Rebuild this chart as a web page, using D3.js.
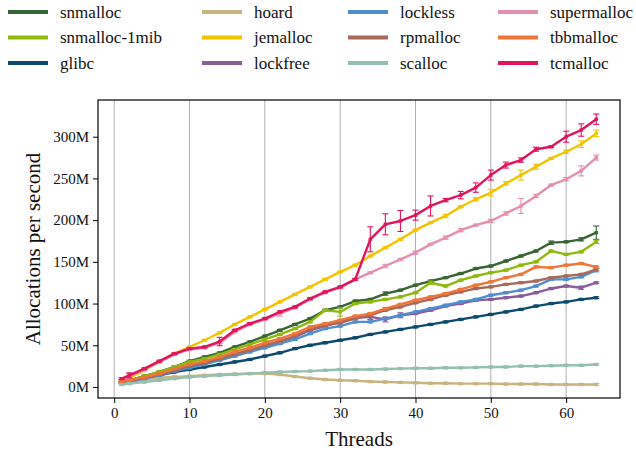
<!DOCTYPE html>
<html>
<head>
<meta charset="utf-8">
<script src="https://cdn.jsdelivr.net/npm/d3@7"></script>
<style>
  body { margin: 0; background: #fff; }
  svg text { font-family: "Liberation Serif", "DejaVu Serif", serif; fill: #111; }
</style>
</head>
<body>
<div id="chart"></div>
<script>
// thread counts on the x axis
const threads = [1, 2, 4, 6, 8, 10, 12, 14, 16, 18, 20, 22, 24, 26, 28, 30, 32,
                 34, 36, 38, 40, 42, 44, 46, 48, 50, 52, 54, 56, 58, 60, 62, 64];

// allocations per second, in millions
const snmalloc     = [7, 8, 13, 18, 24, 31, 36, 41, 48, 54, 61, 68, 75, 82, 92, 96, 103, 105, 112, 116, 122, 127, 131, 136, 142, 145, 151, 157, 163, 173, 174, 177, 185];
const snmalloc1mib = [7, 8, 13, 18, 24, 30, 34, 39, 45, 51, 57, 63, 70, 78, 92, 90, 100, 102, 105, 108, 113, 125, 121, 128, 133, 137, 140, 146, 150, 163, 159, 162, 174];
const glibc        = [5, 6, 10, 14, 18, 21, 24, 27, 30, 33, 37, 41, 46, 50, 53, 56, 59, 63, 66, 69, 72, 75, 78, 81, 84, 87, 90, 93, 97, 100, 102, 105, 107];
const hoard        = [6, 7, 9, 11, 12, 13, 14, 15, 15.5, 16, 16, 15, 12.5, 10.5, 9, 8, 7.5, 6.5, 6, 5.5, 5, 4.5, 4.5, 4, 4, 4, 3.5, 3.5, 3.5, 3, 3, 3, 3];
const jemalloc     = [8, 11, 20, 30, 40, 48, 56, 65, 75, 84, 93, 102, 111, 120, 129, 138, 146, 157, 167, 177, 188, 197, 205, 216, 225, 233, 244, 254, 264, 274, 282, 291, 304];
const lockfree     = [6, 7, 11, 15, 20, 25, 29, 34, 39, 44, 49, 54, 60, 68, 73, 78, 83, 84, 81, 86, 88, 92, 97, 100, 104, 105, 107, 109, 113, 118, 121, 119, 125];
const lockless     = [5, 6, 10, 14, 19, 23, 27, 32, 37, 42, 47, 52, 57, 64, 70, 73, 78, 78, 82, 86, 90, 94, 98, 102, 105, 110, 113, 116, 121, 129, 129, 132, 140];
const rpmalloc     = [6, 7, 11, 15, 20, 25, 29, 34, 39, 44, 50, 55, 61, 69, 74, 77, 82, 86, 92, 96, 101, 105, 110, 114, 118, 120, 123, 125, 127, 131, 133, 135, 141];
const scalloc      = [3, 4, 6, 8, 10, 12, 13, 14, 15, 16, 17, 18, 18.5, 19, 20, 21, 21, 21, 21.5, 22, 22.5, 22.5, 23, 23, 23.5, 24, 24, 25, 25, 25.5, 26, 26, 27];
const supermalloc  = [9, 13, 21, 30, 39, 45, 47, 53, 66, 75, 81, 88, 95, 105, 113, 119, 129, 137, 145, 153, 161, 171, 179, 188, 194, 199, 208, 217, 229, 242, 249, 259, 275];
const tbbmalloc    = [7, 8, 12, 16, 22, 27, 31, 36, 42, 47, 53, 58, 64, 72, 76, 80, 85, 88, 94, 99, 104, 108, 112, 117, 122, 126, 131, 135, 144, 143, 146, 148, 144];
const tcmalloc     = [10, 14, 22, 31, 40, 46, 48, 54.5, 68, 76, 82, 90, 96, 106, 114, 120, 129, 177, 195, 199, 206, 217, 224, 230, 239, 254, 266, 272, 285, 288, 300, 308, 321];

// error bar half-heights, in millions
const snmallocErr     = [1, 1, 1, 1, 1, 1, 1, 1, 1, 1, 1, 1, 1, 1, 1, 1, 1, 1, 2, 1, 1, 1, 1, 1, 1, 1, 1, 1, 1, 2, 1, 2, 8];
const snmalloc1mibErr = [1, 1, 1, 1, 1, 1, 1, 1, 1, 1, 1, 1, 1, 1, 1, 5, 1, 1, 1, 1, 1, 2, 1, 1, 1, 1, 1, 1, 1, 1, 1, 1, 2];
const glibcErr        = [1, 1, 1, 1, 1, 1, 1, 1, 1, 1, 1, 1, 1, 1, 1, 1, 1, 1, 1, 1, 1, 1, 1, 1, 1, 1, 1, 1, 1, 1, 1, 1, 1];
const hoardErr        = [1, 1, 1, 1, 1, 1, 1, 1, 1, 1, 1, 1, 1, 1, 1, 1, 1, 1, 1, 1, 1, 1, 1, 1, 1, 1, 1, 1, 1, 1, 1, 1, 1];
const jemallocErr     = [1, 1, 1, 1, 1, 1, 1, 1, 1, 1, 1, 1, 1, 1, 1, 1, 1, 1, 1, 1, 1, 1, 2, 1, 2, 4, 2, 6, 3, 1, 2, 4, 4];
const lockfreeErr     = [1, 1, 1, 1, 1, 1, 1, 1, 1, 1, 1, 1, 1, 1, 1, 1, 1, 3, 3, 3, 1, 1, 1, 1, 1, 1, 1, 1, 1, 1, 1, 2, 1];
const locklessErr     = [1, 1, 1, 1, 1, 1, 1, 1, 1, 1, 1, 1, 1, 1, 1, 1, 1, 1, 1, 1, 1, 1, 1, 1, 1, 1, 1, 1, 1, 1, 1, 1, 2];
const rpmallocErr     = [1, 1, 1, 1, 1, 1, 1, 1, 1, 1, 1, 1, 1, 1, 1, 1, 1, 1, 1, 1, 1, 1, 1, 1, 1, 1, 1, 1, 1, 1, 1, 1, 1];
const scallocErr      = [1, 1, 1, 1, 1, 1, 1, 1, 1, 1, 1, 1, 1, 1, 1, 1, 1, 1, 1, 1, 1, 1, 1, 1, 1, 1, 1, 1, 1, 1, 1, 1, 1];
const supermallocErr  = [1, 3, 1, 1, 1, 1, 1, 1, 1, 1, 1, 3, 1, 1, 1, 1, 1, 1, 2, 1, 2, 1, 2, 2, 1, 2, 2, 9, 2, 1, 2, 6, 3];
const tbbmallocErr    = [1, 1, 1, 1, 1, 1, 1, 1, 1, 1, 1, 1, 1, 1, 1, 1, 1, 1, 1, 1, 1, 1, 1, 1, 1, 1, 1, 1, 1, 1, 1, 1, 1];
const tcmallocErr     = [1, 3, 1, 1, 1, 1, 1, 5, 1, 1, 1, 1, 1, 1, 1, 1, 1, 15, 12.6, 12.6, 6, 12, 2, 4.4, 5.6, 6, 3.6, 2.6, 2.4, 1, 6.6, 7.4, 6.2];

const names = ["snmalloc", "snmalloc-1mib", "glibc", "hoard", "jemalloc", "lockfree",
               "lockless", "rpmalloc", "scalloc", "supermalloc", "tbbmalloc", "tcmalloc"];
const colors = ["#386633", "#8fba0d", "#0c4a6e", "#c8b47f", "#f4c300", "#8c5b9b",
                "#4f8fd0", "#a8695a", "#93c0b0", "#e78fb0", "#f07538", "#e1145f"];
const values = [snmalloc, snmalloc1mib, glibc, hoard, jemalloc, lockfree,
                lockless, rpmalloc, scalloc, supermalloc, tbbmalloc, tcmalloc];
const errors = [snmallocErr, snmalloc1mibErr, glibcErr, hoardErr, jemallocErr, lockfreeErr,
                locklessErr, rpmallocErr, scallocErr, supermallocErr, tbbmallocErr, tcmallocErr];

const xTicks = [0, 10, 20, 30, 40, 50, 60];
const yTicks = [0, 50, 100, 150, 200, 250, 300];

const series = names.map((name, i) => ({
    name: name,
    color: colors[i],
    points: threads.map((t, j) => ({ t: t, v: values[i][j], e: errors[i][j] }))
}));

const W = 636, H = 453;
const plot = { left: 98, right: 620, top: 100, bottom: 398 };

const svg = d3.select("#chart").append("svg")
    .attr("width", W)
    .attr("height", H);

const x = d3.scaleLinear().domain([-2.15, 67.15]).range([plot.left, plot.right]);
const y = d3.scaleLinear().domain([-13.2, 344]).range([plot.bottom, plot.top]);

// vertical grid lines
svg.append("g")
   .selectAll("line")
   .data(xTicks)
   .enter().append("line")
   .attr("x1", d => x(d)).attr("x2", d => x(d))
   .attr("y1", plot.top).attr("y2", plot.bottom)
   .attr("stroke", "#b0b0b0")
   .attr("stroke-width", 1);

// series
const line = d3.line().x(d => x(d.t)).y(d => y(d.v));

const g = svg.append("g")
   .selectAll("g")
   .data(series)
   .enter().append("g")
   .attr("stroke", d => d.color)
   .attr("fill", d => d.color);

g.append("path")
 .attr("d", d => line(d.points))
 .attr("fill", "none")
 .attr("stroke-width", 2.4)
 .attr("stroke-linejoin", "round");

const eb = g.selectAll(".err")
 .data(d => d.points)
 .enter().append("g")
 .attr("class", "err")
 .attr("stroke-width", 1.1);

eb.append("line")
  .attr("x1", d => x(d.t)).attr("x2", d => x(d.t))
  .attr("y1", d => y(d.v - d.e)).attr("y2", d => y(d.v + d.e));
eb.append("line")
  .attr("x1", d => x(d.t) - 3).attr("x2", d => x(d.t) + 3)
  .attr("y1", d => y(d.v - d.e)).attr("y2", d => y(d.v - d.e));
eb.append("line")
  .attr("x1", d => x(d.t) - 3).attr("x2", d => x(d.t) + 3)
  .attr("y1", d => y(d.v + d.e)).attr("y2", d => y(d.v + d.e));

g.selectAll("rect")
 .data(d => d.points)
 .enter().append("rect")
 .attr("x", d => x(d.t) - 1.7)
 .attr("y", d => y(d.v) - 1.7)
 .attr("width", 3.4)
 .attr("height", 3.4)
 .attr("stroke", "none");

// frame
svg.append("rect")
   .attr("x", plot.left).attr("y", plot.top)
   .attr("width", plot.right - plot.left)
   .attr("height", plot.bottom - plot.top)
   .attr("fill", "none")
   .attr("stroke", "#000")
   .attr("stroke-width", 1.2);

// axes
const xAxis = svg.append("g")
   .attr("transform", `translate(0,${plot.bottom})`)
   .call(d3.axisBottom(x).tickValues(xTicks).tickSize(5).tickPadding(4));
const yAxis = svg.append("g")
   .attr("transform", `translate(${plot.left},0)`)
   .call(d3.axisLeft(y).tickValues(yTicks).tickSize(5).tickPadding(4).tickFormat(d => d + "M"));

[xAxis, yAxis].forEach(a => {
    a.select(".domain").remove();
    a.selectAll(".tick line").attr("stroke", "#000").attr("stroke-width", 1);
    a.selectAll(".tick text").style("font-size", "15px")
     .style("font-family", "'Liberation Serif', serif").attr("fill", "#111");
});

svg.append("text")
   .attr("x", (plot.left + plot.right) / 2)
   .attr("y", 446)
   .attr("text-anchor", "middle")
   .style("font-size", "21px")
   .text("Threads");

svg.append("text")
   .attr("transform", `translate(40,${(plot.top + plot.bottom) / 2}) rotate(-90)`)
   .attr("text-anchor", "middle")
   .style("font-size", "21px")
   .text("Allocations per second");

// legend, filled column by column
const legendCols = [8, 202, 348, 498];
const legendRows = [12, 37.5, 63];

const leg = svg.append("g")
   .selectAll("g")
   .data(series)
   .enter().append("g")
   .attr("transform", (d, i) => `translate(${legendCols[Math.floor(i / 3)]},${legendRows[i % 3]})`);

leg.append("line")
   .attr("x1", 0).attr("x2", 40)
   .attr("stroke", d => d.color)
   .attr("stroke-width", 4);

leg.append("text")
   .attr("x", 52)
   .attr("dy", "0.33em")
   .style("font-size", "17px")
   .text(d => d.name);
</script>
</body>
</html>
